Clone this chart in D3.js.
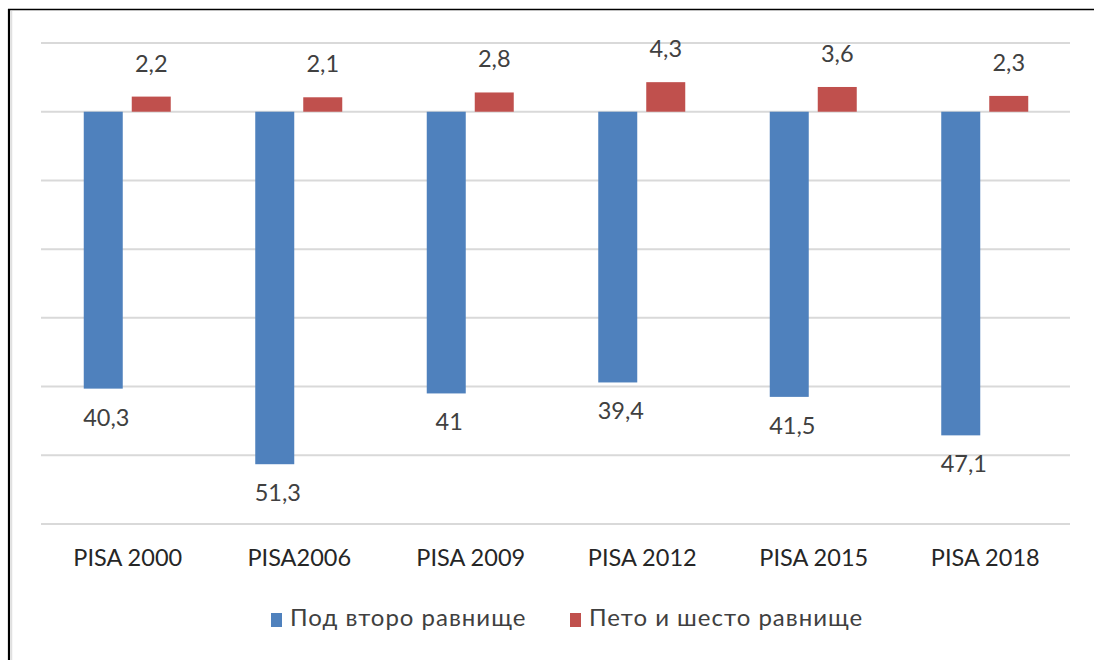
<!DOCTYPE html>
<html><head><meta charset="utf-8">
<script src="https://cdn.jsdelivr.net/npm/d3@7"></script>
<style>body{margin:0;background:#fff;} svg{display:block;}</style>
</head><body>
<script>
const categories = ["PISA 2000","PISA2006","PISA 2009","PISA 2012","PISA 2015","PISA 2018"];
const seriesNames = ["Под второ равнище","Пето и шесто равнище"];
const belowLevel2 = [-40.3,-51.3,-41,-39.4,-41.5,-47.1];
const level5and6 = [2.2,2.1,2.8,4.3,3.6,2.3];
const labelsBelow = ["40,3","51,3","41","39,4","41,5","47,1"];
const labelsTop = ["2,2","2,1","2,8","4,3","3,6","2,3"];
const yTicks = [-60,-50,-40,-30,-20,-10,0,10];
const colors = ["#4f81bd","#c0504d"];

const W=1094,H=660;
const svg=d3.select("body").append("svg").attr("width",W).attr("height",H);
const font="Lato, 'Open Sans', sans-serif";

// frame
svg.append("line").attr("x1",8).attr("x2",W).attr("y1",9.5).attr("y2",9.5).attr("stroke","#000").attr("stroke-width",1.3);
svg.append("line").attr("x1",9).attr("x2",9).attr("y1",9).attr("y2",H).attr("stroke","#000").attr("stroke-width",2.2);
svg.append("line").attr("x1",11.5).attr("x2",11.5).attr("y1",11).attr("y2",H).attr("stroke","#e0e0e0").attr("stroke-width",1.5);

const y=d3.scaleLinear().domain([-60,10]).range([524,43]);
const x0=d3.scaleBand().domain(categories).range([41,1070]);
const x1=d3.scaleBand().domain(seriesNames).range([0,87]).paddingInner(0.1875);

svg.append("g").selectAll("line").data(yTicks).join("line")
  .attr("x1",41).attr("x2",1070).attr("y1",d=>y(d)).attr("y2",d=>y(d))
  .attr("stroke","#d9d9d9").attr("stroke-width",2);

const groups=svg.append("g").selectAll("g").data(categories).join("g")
  .attr("transform",d=>`translate(${x0(d)+x0.bandwidth()/2-43.5+0.5},0)`);

const data=[belowLevel2,level5and6];
groups.each(function(c,i){
  const g=d3.select(this);
  seriesNames.forEach((s,k)=>{
    const v=data[k][i];
    g.append("rect").attr("x",x1(s)).attr("width",x1.bandwidth())
      .attr("y",Math.min(y(v),y(0))).attr("height",Math.abs(y(v)-y(0)))
      .attr("fill",colors[k]);
    const lab=k===0?labelsBelow[i]:labelsTop[i];
    g.append("text").attr("x",x1(s)+x1.bandwidth()/2+(k===0?3:0))
      .attr("y",k===0?y(v)+31:y(v)-31)
      .attr("text-anchor","middle").attr("dominant-baseline","middle")
      .attr("font-family",font).attr("font-size",23.5).attr("fill","#404040").text(lab);
  });
});

svg.append("g").selectAll("text").data(categories).join("text")
  .attr("x",d=>x0(d)+x0.bandwidth()/2+1).attr("y",560)
  .attr("text-anchor","middle").attr("dominant-baseline","middle")
  .attr("font-family",font).attr("font-size",23.5).attr("fill","#262626").text(d=>d);

const leg=svg.append("g");
const legX=[271,570];
seriesNames.forEach((s,k)=>{
  leg.append("rect").attr("x",legX[k]).attr("y",613).attr("width",11).attr("height",14).attr("fill",colors[k]);
  leg.append("text").attr("x",legX[k]+19).attr("y",620).attr("dominant-baseline","middle")
    .attr("font-family",font).attr("font-size",24).attr("letter-spacing",1).attr("fill","#404040").text(s);
});
</script>
</body></html>
